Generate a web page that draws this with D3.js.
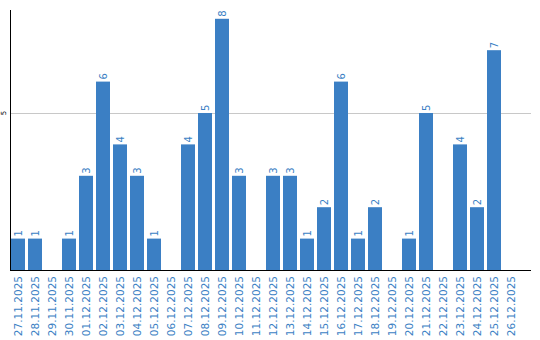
<!DOCTYPE html>
<html>
<head>
<meta charset="utf-8">
<script src="https://cdn.jsdelivr.net/npm/d3@7"></script>
<style>
  body { margin: 0; background: #fff; }
  svg { display: block; }
</style>
</head>
<body>
<div id="chart"></div>
<script>
// data
const dates = ["27.11.2025", "28.11.2025", "29.11.2025", "30.11.2025", "01.12.2025", "02.12.2025",
    "03.12.2025", "04.12.2025", "05.12.2025", "06.12.2025", "07.12.2025", "08.12.2025",
    "09.12.2025", "10.12.2025", "11.12.2025", "12.12.2025", "13.12.2025", "14.12.2025",
    "15.12.2025", "16.12.2025", "17.12.2025", "18.12.2025", "19.12.2025", "20.12.2025",
    "21.12.2025", "22.12.2025", "23.12.2025", "24.12.2025", "25.12.2025", "26.12.2025"];
const counts = [1, 1, 0, 1, 3, 6, 4, 3, 1, 0, 4, 5, 8, 3, 0, 3, 3, 1, 2, 6, 1, 2, 0, 1, 5, 0, 4, 2, 7, 0];
const yTicks = [5];

const width = 540, height = 340;
const blue = "#3b7fc4";

const svg = d3.select("#chart").append("svg")
    .attr("width", width)
    .attr("height", height);

const x = d3.scaleBand()
    .domain(dates)
    .range([11, 521])
    .paddingInner(3 / 17)
    .paddingOuter(1.5 / 17)
    .align(0);

const y = d3.scaleLinear()
    .domain([0, 8.28])
    .range([270, 10]);

// gridline
svg.append("g")
  .selectAll("line")
  .data(yTicks)
  .join("line")
    .attr("x1", 11).attr("x2", 531)
    .attr("y1", d => Math.round(y(d)) + 0.5)
    .attr("y2", d => Math.round(y(d)) + 0.5)
    .attr("stroke", "#c8c8c8");

// y tick labels (rotated)
svg.append("g")
  .selectAll("text")
  .data(yTicks)
  .join("text")
    .attr("transform", d => `translate(6,${y(d)}) rotate(-90)`)
    .attr("text-anchor", "middle")
    .style("font", "7px 'DejaVu Sans', sans-serif")
    .attr("fill", "#000")
    .text(d => d);

// bars
svg.append("g")
  .selectAll("rect")
  .data(counts)
  .join("rect")
    .attr("x", (d, i) => x(dates[i]))
    .attr("y", d => y(d))
    .attr("width", x.bandwidth())
    .attr("height", d => y(0) - y(d))
    .attr("fill", blue);

// value labels
svg.append("g")
  .selectAll("text")
  .data(counts.map((v, i) => ({v, d: dates[i]})).filter(o => o.v > 0))
  .join("text")
    .attr("transform", o => `translate(${x(o.d) + x.bandwidth() / 2 + 3.5},${y(o.v) - 2}) rotate(-90)`)
    .attr("text-anchor", "start")
    .style("font", "10px 'DejaVu Sans', sans-serif")
    .attr("fill", blue)
    .text(o => o.v);

// axes lines
svg.append("line")
    .attr("x1", 10.5).attr("x2", 10.5)
    .attr("y1", 10).attr("y2", 270.5)
    .attr("stroke", "#000");
svg.append("line")
    .attr("x1", 10).attr("x2", 531)
    .attr("y1", 270.5).attr("y2", 270.5)
    .attr("stroke", "#000");

// x tick labels
svg.append("g")
  .selectAll("text")
  .data(dates)
  .join("text")
    .attr("transform", d => `translate(${x(d) + x.bandwidth() / 2 + 3.5},276) rotate(-90)`)
    .attr("text-anchor", "end")
    .style("font", "10.5px 'DejaVu Sans', sans-serif")
    .attr("fill", blue)
    .text(d => d);
</script>
</body>
</html>
